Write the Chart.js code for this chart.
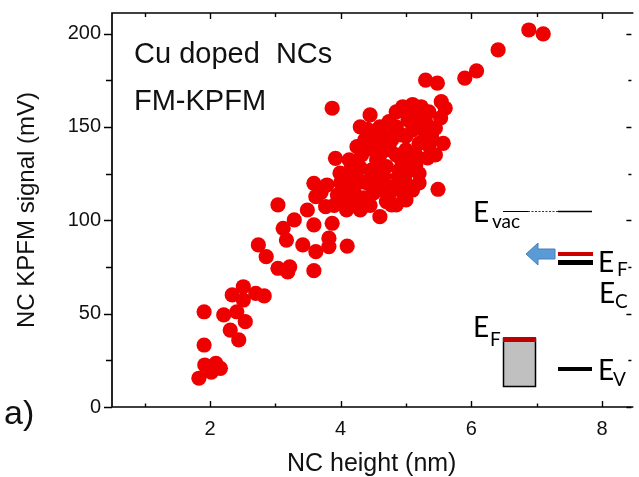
<html>
  <head>
    <meta charset="utf-8" />
    <title>NC KPFM signal vs NC height</title>
    <style>
      body {
        margin: 0;
        padding: 0;
        background-color: #fff;
      }
      #wrap {
        width: 639px;
        height: 477px;
      }
    </style>
    <script src="https://cdn.jsdelivr.net/npm/chart.js"></script>
  </head>
  <body>
    <div id="wrap"><canvas id="kpfmChart"></canvas></div>
    <script>
      // NC height (nm) and NC KPFM signal (mV)
      const ncHeight = [
        1.83, 1.92, 2.09, 2.16, 2.02, 1.91, 1.91, 2.21, 2.41, 2.54,
        2.31, 2.44, 2.34, 2.51, 2.51, 2.70, 2.83, 2.74, 2.86, 3.04,
        3.22, 3.19, 3.59, 3.12, 3.17, 3.29, 3.42, 3.49, 3.62, 3.59,
        3.82, 3.82, 3.87, 4.10, 3.04, 3.59, 3.62, 3.79, 3.77, 3.95,
        4.07, 4.22, 4.30, 4.09, 3.99, 3.92, 3.87, 4.25, 4.40, 4.60,
        4.50, 4.25, 4.60, 4.22, 4.12, 4.25, 4.14, 6.88, 7.10, 6.41,
        6.08, 5.90, 5.30, 5.48, 5.54, 5.60, 4.95, 5.23, 5.26, 5.13,
        4.45, 4.74, 4.41, 4.93, 5.10, 5.28, 5.40, 5.57, 5.20, 4.62,
        4.75, 4.50, 5.00, 5.15, 4.93, 4.55, 4.70, 4.47, 4.88, 4.66,
        4.98, 5.05, 4.62, 4.75, 4.85, 5.49, 4.42, 4.90, 5.10, 4.32,
        4.78, 5.30, 5.45, 5.15, 5.33, 4.78, 5.00, 4.37, 4.13, 4.34,
        5.03, 5.53, 4.15, 4.25, 4.07, 4.10,
        4.20, 4.35, 4.45, 4.30, 4.00, 3.90, 3.70, 4.45, 4.55, 4.60,
        4.85, 5.00, 4.70, 4.85, 5.05, 5.20, 4.55, 4.80, 4.95, 5.20,
        5.35, 5.45, 4.40, 4.60, 5.10, 4.85, 5.35, 5.00, 4.70, 5.20,
        4.52, 4.30
      ];
      const kpfmSignal = [
        15.4, 22.5, 23.4, 20.7, 18.7, 33.2, 51.0, 49.3, 51.0, 45.7,
        41.2, 35.9, 60.0, 64.4, 57.3, 60.9, 59.5, 86.8, 80.5, 74.3,
        75.1, 72.3, 73.0, 95.7, 89.4, 100.2, 86.8, 105.5, 83.2, 97.5,
        90.4, 85.9, 98.4, 86.2, 108.2, 119.8, 112.6, 118.9, 107.3, 113.5,
        118.0, 110.0, 105.5, 105.5, 125.2, 133.2, 160.0, 139.4, 147.5, 101.9,
        114.5, 128.7, 137.7, 125.2, 119.8, 112.6, 109.3, 201.9, 199.8, 191.2,
        180.0, 176.1, 175.1, 173.4, 163.5, 160.0, 160.8, 160.8, 156.4, 157.3,
        156.4, 152.8, 148.7, 145.7, 148.4, 147.5, 143.9, 141.2, 141.2, 141.2,
        137.7, 137.7, 137.7, 135.0, 132.3, 132.3, 128.7, 126.9, 123.4, 123.4,
        121.6, 117.1, 116.2, 114.5, 108.2, 116.6, 119.8, 126.9, 116.2, 135.0,
        143.0, 152.7, 149.4, 129.6, 133.4, 108.2, 110.9, 143.0, 132.3, 120.5,
        153.7, 154.8, 126.9, 121.6, 115.3, 110.9,
        116.0, 112.0, 122.0, 128.0, 120.0, 108.0, 115.0, 108.0, 118.0, 150.0,
        150.0, 145.0, 145.0, 135.0, 130.0, 125.0, 127.0, 118.0, 115.0, 150.0,
        140.0, 135.0, 140.0, 135.0, 162.0, 158.0, 158.0, 125.0, 110.0, 120.0,
        145.0, 150.0
      ];

      const xTicks = [2, 4, 6, 8];
      const xMinorTicks = [1, 3, 5, 7];
      const yTicks = [0, 50, 100, 150, 200];
      const yMinorTicks = [25, 75, 125, 175];

      const points = ncHeight.map((h, i) => ({ x: h, y: kpfmSignal[i] }));

      // frame, inward/outward ticks, labels and the band-diagram inset
      const framePlugin = {
        id: "frame",
        afterDraw(chart) {
          const { ctx, chartArea: a, scales } = chart;
          const xs = scales.x;
          const ys = scales.y;
          ctx.save();
          ctx.strokeStyle = "#000";
          ctx.lineWidth = 1.7;
          ctx.beginPath();
          ctx.moveTo(a.right + 2, a.top);
          ctx.lineTo(a.left, a.top);
          ctx.lineTo(a.left, a.bottom);
          ctx.lineTo(a.right + 2, a.bottom);
          ctx.stroke();

          ctx.lineWidth = 1.4;
          ctx.beginPath();
          const seg = (x1, y1, x2, y2) => {
            ctx.moveTo(x1, y1);
            ctx.lineTo(x2, y2);
          };
          xTicks.forEach((v) => {
            const px = Math.round(xs.getPixelForValue(v)) + 0.5;
            seg(px, a.bottom, px, a.bottom - 6);
            seg(px, a.top, px, a.top + 6);
          });
          xMinorTicks.forEach((v) => {
            const px = Math.round(xs.getPixelForValue(v)) + 0.5;
            seg(px, a.bottom, px, a.bottom - 3.5);
            seg(px, a.top, px, a.top + 4);
          });
          yTicks.forEach((v) => {
            const py = Math.round(ys.getPixelForValue(v)) + 0.5;
            seg(a.left, py, a.left - 8, py);
            seg(a.right, py, a.right - 5, py);
          });
          yMinorTicks.forEach((v) => {
            const py = Math.round(ys.getPixelForValue(v)) + 0.5;
            seg(a.left, py, a.left - 6, py);
            seg(a.right, py, a.right - 3, py);
          });
          ctx.stroke();

          // labels inside the plot
          ctx.fillStyle = "#111";
          ctx.font = "29px 'Liberation Sans', Arial, sans-serif";
          ctx.textBaseline = "alphabetic";
          ctx.textAlign = "left";
          ctx.fillText("Cu doped  NCs", 134, 63);
          ctx.fillText("FM-KPFM", 134, 110);

          ctx.font = "34px 'Liberation Sans', Arial, sans-serif";
          ctx.fillText("a)", 4, 424);

          // band diagram inset
          const big = "28px Lato, 'Open Sans', sans-serif";
          const sub = "19px Lato, 'Open Sans', sans-serif";
          ctx.fillStyle = "#000";
          ctx.font = big;
          ctx.fillText("E", 473, 222);
          ctx.font = sub;
          ctx.fillText("vac", 492, 228);

          ctx.lineWidth = 1;
          ctx.beginPath();
          ctx.moveTo(503, 211.5);
          ctx.lineTo(528, 211.5);
          ctx.stroke();
          ctx.setLineDash([2, 1.5]);
          ctx.strokeStyle = "#333";
          ctx.beginPath();
          ctx.moveTo(528, 211.5);
          ctx.lineTo(558, 211.5);
          ctx.stroke();
          ctx.setLineDash([]);
          ctx.strokeStyle = "#000";
          ctx.lineWidth = 1.5;
          ctx.beginPath();
          ctx.moveTo(558, 211.5);
          ctx.lineTo(592, 211.5);
          ctx.stroke();

          // arrow
          ctx.fillStyle = "#5B9BD5";
          ctx.strokeStyle = "#4A7EBB";
          ctx.lineWidth = 1;
          ctx.beginPath();
          ctx.moveTo(526, 254);
          ctx.lineTo(538, 243);
          ctx.lineTo(538, 249);
          ctx.lineTo(555, 249);
          ctx.lineTo(555, 259);
          ctx.lineTo(538, 259);
          ctx.lineTo(538, 265);
          ctx.closePath();
          ctx.fill();
          ctx.stroke();

          ctx.fillStyle = "#CC0000";
          ctx.fillRect(558, 252, 35, 4);
          ctx.fillStyle = "#000";
          ctx.fillRect(558, 260, 35, 5);

          ctx.font = big;
          ctx.fillText("E", 598, 272);
          ctx.fillText("E", 599, 303);
          ctx.font = sub;
          ctx.fillText("F", 617, 276);
          ctx.fillText("C", 615, 308);

          // metal box
          ctx.fillStyle = "#C0C0C0";
          ctx.fillRect(503, 338, 33, 49);
          ctx.strokeStyle = "#000";
          ctx.lineWidth = 1.5;
          ctx.strokeRect(503.5, 338.5, 32, 48);
          ctx.fillStyle = "#C00000";
          ctx.fillRect(503, 337, 33, 5);

          ctx.fillStyle = "#000";
          ctx.font = big;
          ctx.fillText("E", 473, 337);
          ctx.font = sub;
          ctx.fillText("F", 490, 346);

          ctx.fillRect(558, 367, 34, 4);
          ctx.font = big;
          ctx.fillText("E", 598, 380);
          ctx.font = sub;
          ctx.fillText("V", 613, 386);

          ctx.restore();
        },
      };

      const ctx = document.getElementById("kpfmChart").getContext("2d");
      const kpfmChart = new Chart(ctx, {
        type: "scatter",
        data: {
          datasets: [
            {
              label: "Cu doped NCs",
              data: points,
              backgroundColor: "#EE0000",
              borderWidth: 0,
              pointRadius: 7.6,
              pointHoverRadius: 7.6,
            },
          ],
        },
        options: {
          responsive: true,
          maintainAspectRatio: false,
          animation: false,
          layout: {
            padding: { top: 13, right: 0, bottom: 0, left: 0 },
          },
          plugins: {
            legend: { display: false },
            tooltip: { enabled: false },
          },
          scales: {
            x: {
              type: "linear",
              position: "bottom",
              min: 0.5,
              max: 8.45,
              afterBuildTicks: (s) => {
                s.ticks = xTicks.map((v) => ({ value: v }));
              },
              afterFit: (s) => {
                s.height = 70;
                s.paddingLeft = 0;
                s.paddingRight = 0;
              },
              grid: { display: false, drawTicks: false },
              border: { display: false },
              ticks: {
                padding: 10,
                color: "#111",
                font: { family: "'Liberation Sans', Arial, sans-serif", size: 20 },
              },
              title: {
                display: true,
                text: "NC height (nm)",
                color: "#111",
                padding: { top: 0, bottom: 0 },
                font: { family: "'Liberation Sans', Arial, sans-serif", size: 25, lineHeight: 1 },
              },
            },
            y: {
              type: "linear",
              position: "left",
              min: 0,
              max: 211,
              afterBuildTicks: (s) => {
                s.ticks = yTicks.map((v) => ({ value: v }));
              },
              afterFit: (s) => {
                s.width = 112;
                s.paddingTop = 0;
                s.paddingBottom = 0;
              },
              grid: { display: false, drawTicks: false },
              border: { display: false },
              ticks: {
                padding: 11,
                color: "#111",
                font: { family: "'Liberation Sans', Arial, sans-serif", size: 20 },
              },
              title: {
                display: true,
                text: "NC KPFM signal (mV)",
                color: "#111",
                padding: { top: 15, bottom: 0 },
                font: { family: "'Liberation Sans', Arial, sans-serif", size: 24, lineHeight: 1 },
              },
            },
          },
        },
        plugins: [framePlugin],
      });
    </script>
  </body>
</html>
